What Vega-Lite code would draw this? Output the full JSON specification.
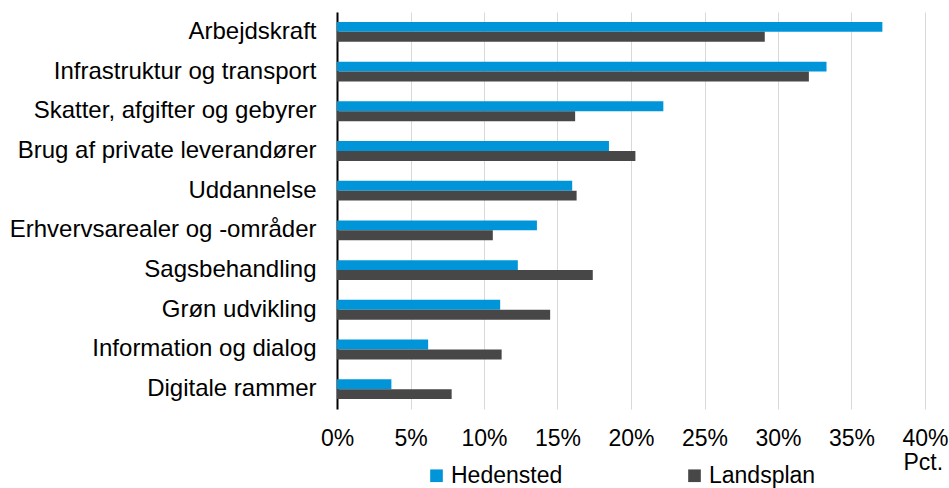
{
  "$schema": "https://vega.github.io/schema/vega-lite/v6.json",
  "width": 588,
  "height": 397,
  "autosize": {"type": "none"},
  "padding": {"left": 337, "top": 12, "right": 24, "bottom": 79},
  "background": "white",
  "config": {
    "view": {"stroke": null},
    "font": "Liberation Sans",
    "axis": {"labelFont": "Liberation Sans", "titleFont": "Liberation Sans"},
    "legend": {"labelFont": "Liberation Sans"}
  },
  "data": {
    "values": [
      {"kategori": "Arbejdskraft", "serie": "Hedensted", "andel": 0.371},
      {"kategori": "Arbejdskraft", "serie": "Landsplan", "andel": 0.291},
      {"kategori": "Infrastruktur og transport", "serie": "Hedensted", "andel": 0.333},
      {"kategori": "Infrastruktur og transport", "serie": "Landsplan", "andel": 0.321},
      {"kategori": "Skatter, afgifter og gebyrer", "serie": "Hedensted", "andel": 0.222},
      {"kategori": "Skatter, afgifter og gebyrer", "serie": "Landsplan", "andel": 0.162},
      {"kategori": "Brug af private leverandører", "serie": "Hedensted", "andel": 0.185},
      {"kategori": "Brug af private leverandører", "serie": "Landsplan", "andel": 0.203},
      {"kategori": "Uddannelse", "serie": "Hedensted", "andel": 0.160},
      {"kategori": "Uddannelse", "serie": "Landsplan", "andel": 0.163},
      {"kategori": "Erhvervsarealer og -områder", "serie": "Hedensted", "andel": 0.136},
      {"kategori": "Erhvervsarealer og -områder", "serie": "Landsplan", "andel": 0.106},
      {"kategori": "Sagsbehandling", "serie": "Hedensted", "andel": 0.123},
      {"kategori": "Sagsbehandling", "serie": "Landsplan", "andel": 0.174},
      {"kategori": "Grøn udvikling", "serie": "Hedensted", "andel": 0.111},
      {"kategori": "Grøn udvikling", "serie": "Landsplan", "andel": 0.145},
      {"kategori": "Information og dialog", "serie": "Hedensted", "andel": 0.062},
      {"kategori": "Information og dialog", "serie": "Landsplan", "andel": 0.112},
      {"kategori": "Digitale rammer", "serie": "Hedensted", "andel": 0.037},
      {"kategori": "Digitale rammer", "serie": "Landsplan", "andel": 0.078}
    ]
  },
  "mark": {"type": "bar"},
  "encoding": {
    "y": {
      "field": "kategori",
      "type": "nominal",
      "sort": null,
      "scale": {"paddingInner": 0.5, "paddingOuter": 0.25},
      "axis": {
        "title": null,
        "domainColor": "#000000",
        "domainWidth": 2,
        "ticks": false,
        "tickSize": 0,
        "labelFontSize": 24,
        "labelColor": "#000000",
        "labelPadding": 21,
        "labelLimit": 400,
        "grid": false
      }
    },
    "yOffset": {"field": "serie", "type": "nominal", "sort": ["Hedensted", "Landsplan"], "scale": {"paddingInner": 0, "paddingOuter": 0}},
    "x": {
      "field": "andel",
      "type": "quantitative",
      "scale": {"domain": [0, 0.4], "nice": false},
      "axis": {
        "values": [0, 0.05, 0.1, 0.15, 0.2, 0.25, 0.3, 0.35, 0.4],
        "format": ".0%",
        "domain": false,
        "ticks": false,
        "tickSize": 0,
        "grid": true,
        "gridColor": "#D9D9D9",
        "gridWidth": 1,
        "labelFontSize": 23,
        "labelColor": "#000000",
        "labelPadding": 18,
        "labelFlush": false,
        "title": "Pct.",
        "titleFontSize": 23,
        "titleFontWeight": "normal",
        "titleColor": "#000000",
        "titleAlign": "left",
        "titleAnchor": null,
        "titleBaseline": "top",
        "titleX": 566,
        "titleY": 42
      }
    },
    "color": {
      "field": "serie",
      "type": "nominal",
      "scale": {"domain": ["Hedensted", "Landsplan"], "range": ["#0095D9", "#474747"]},
      "legend": {
        "title": null,
        "orient": "none",
        "direction": "horizontal",
        "columns": 2,
        "columnPadding": 120,
        "legendX": 88,
        "legendY": 452,
        "padding": 0,
        "symbolType": "square",
        "symbolSize": 160,
        "symbolStrokeWidth": 0,
        "symbolOpacity": 1,
        "labelFontSize": 23,
        "labelColor": "#000000",
        "labelOffset": 3,
        "labelLimit": 300
      }
    }
  }
}
